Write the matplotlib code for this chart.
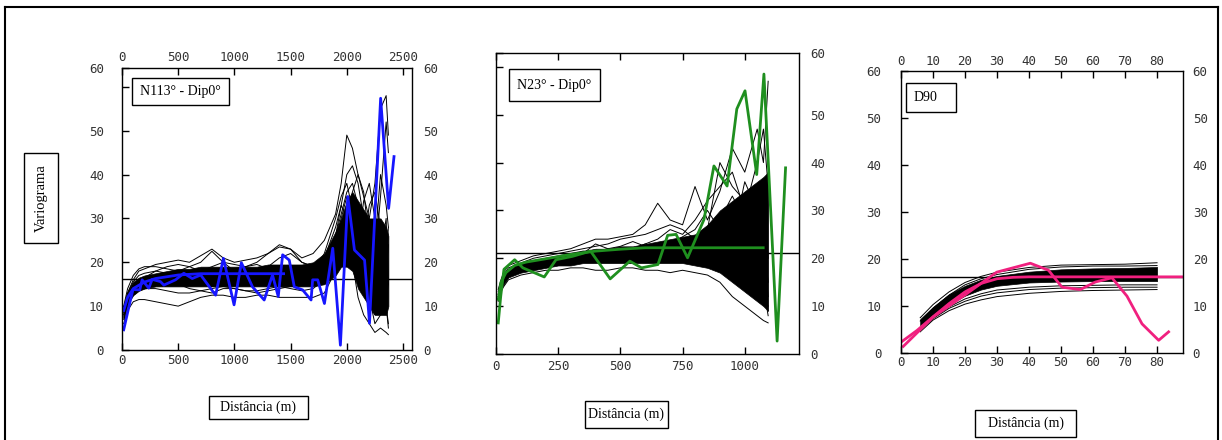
import matplotlib.pyplot as plt
from matplotlib.patches import Rectangle
from matplotlib.lines import Line2D

W, H = 1222, 440

# ---------------- panel 1: N113 - Dip0 ----------------
x1_exp = [15, 68, 98, 158, 179, 238, 268, 342, 372, 476, 550, 625, 700, 833, 902, 997, 1062,
          1161, 1265, 1339, 1390, 1429, 1488, 1533, 1607, 1682, 1696, 1741, 1801, 1875, 1943,
          2009, 2068, 2158, 2202, 2301, 2372, 2420]
y1_exp = [4.6, 10.6, 13.8, 13.7, 16.0, 14.1, 16.1, 15.6, 14.8, 16.0, 17.5, 16.3, 17.1, 12.5, 20.9,
          10.3, 19.9, 14.4, 11.4, 17.1, 12.2, 21.7, 20.5, 14.4, 13.7, 11.4, 16.0, 16.0, 10.6, 23.2,
          1.1, 35.0, 22.8, 20.5, 6.1, 57.4, 32.3, 44.1]
x1_mod = [15, 50, 100, 200, 300, 500, 700, 1438]
y1_mod = [9, 12, 14, 15.5, 16.3, 17.1, 17.4, 17.4]
sill1 = 16.2

x1_sim = [15, 50, 100, 150, 200, 300, 400, 500, 600, 700, 800, 900, 1000, 1100, 1200, 1300,
          1400, 1500, 1600, 1700, 1800, 1900, 1950, 2000, 2050, 2100, 2150, 2200, 2250, 2300,
          2350, 2370]
core1_lo = [7, 10.5, 12.5, 13.5, 14, 14.5, 14.5, 14.5, 14.5, 14.5, 14.5, 14.5, 14.5, 14.5, 14.5,
            14.5, 14.5, 14.5, 14.5, 14.5, 15, 17, 19, 19, 18, 14, 12, 10, 8, 8, 8, 10]
core1_hi = [10, 13, 15.5, 16.5, 17, 17.5, 18, 18.5, 18.5, 19, 19, 19, 19, 19, 19, 19.5, 19.5,
            19.5, 19.5, 20, 22, 27, 30, 34, 36, 34, 32, 30, 30, 30, 28, 26]
sims1 = [
    [9, 13, 16, 18, 18.5, 19.5, 20, 20.5, 20, 21.5, 23, 21, 20, 20.5, 21, 22, 23.5, 23, 21, 22,
     25, 31, 38, 49, 46, 40, 35, 30, 38, 55, 58, 49],
    [6, 9, 11, 11.5, 11.5, 11, 10.5, 10, 11, 12, 12.5, 12.5, 12, 12, 12.5, 12.5, 12, 12, 12, 12,
     13, 18, 22, 25, 20, 12, 8, 6, 4, 5, 4, 3.5],
    [8, 12, 14.5, 15.5, 16, 17, 17, 18, 19, 20, 22.5, 20, 18, 17, 18, 19, 21, 22, 20, 19, 21,
     28, 33, 40, 42, 38, 30, 22, 15, 12, 20, 28],
    [7.5, 11, 13, 14, 14.5, 15, 15.5, 15, 14, 13.5, 13, 14, 14, 13.5, 13, 13.5, 14, 14.5, 15, 16,
     18, 24, 28, 32, 36, 40, 36, 25, 20, 35, 52, 45],
    [10, 14, 17, 18.5, 19, 19, 18.5, 18, 17.5, 18, 19, 20, 19.5, 19, 20, 22, 24, 23, 20, 19, 20,
     25, 30, 35, 30, 22, 15, 10, 8, 15, 10, 5],
    [8.5, 12, 14, 15, 15.5, 16, 16.5, 17, 16.5, 16, 16, 16.5, 17, 16.5, 16, 16, 16.5, 17, 17, 18,
     21, 26, 31, 36, 38, 33, 27, 18, 14, 22, 30, 15],
    [9, 12.5, 15, 16, 16.5, 18, 19, 19.5, 19, 18, 17.5, 18, 18.5, 19, 19.5, 18.5, 17, 16, 17, 18,
     22, 30, 35, 38, 32, 26, 20, 14, 24, 40, 33, 28],
    [7, 10.5, 12.5, 13.5, 14, 14, 13.5, 13, 13, 13.5, 14, 14.5, 14, 13.5, 13.5, 14, 14.5, 14, 13.5,
     14, 16, 20, 24, 28, 26, 22, 17, 12, 6, 8, 12, 15],
    [8, 11.5, 13.5, 14.5, 15, 15.5, 16, 16.5, 17, 16.5, 15.5, 15, 15.5, 16, 17.5, 18, 17.5, 16.5,
     16, 17, 19, 23, 27, 30, 28, 24, 34, 38, 30, 18, 10, 6],
    [9.5, 13, 15.5, 17, 17.5, 18, 17.5, 17, 16, 15, 14.5, 15, 16, 17, 16.5, 15.5, 15, 15.5, 16.5,
     17.5, 20, 26, 33, 30, 24, 18, 24, 33, 36, 28, 18, 24],
]

# ---------------- panel 2: N23 - Dip0 ----------------
x2_exp = [9, 19, 32, 75, 108, 194, 241, 307, 380, 459, 538, 585, 651, 690, 724, 770, 836, 876,
          929, 968, 1001, 1048, 1077, 1130, 1164]
y2_exp = [6.5, 12.1, 17.7, 19.7, 18.0, 16.1, 19.7, 20.4, 21.5, 15.7, 19.4, 18.0, 18.7, 24.8,
          25.0, 20.1, 28.1, 39.3, 35.1, 51.2, 55.0, 37.5, 58.5, 2.7, 38.9]
x2_mod = [9, 20, 40, 75, 120, 200, 300, 400, 500, 600, 1074]
y2_mod = [11.4, 15, 17, 18.5, 19.2, 19.9, 20.8, 21.5, 21.9, 22.2, 22.2]
sill2 = 21.1

x2_sim = [9, 20, 30, 50, 75, 100, 150, 200, 250, 300, 350, 400, 450, 500, 550, 600, 650, 700,
          750, 800, 850, 900, 950, 1000, 1050, 1075, 1094]
core2_lo = [11.5, 13.5, 14.5, 16, 16.5, 17, 17.5, 18, 18.5, 18.5, 19, 19, 19, 19, 19, 19, 19, 19,
            19, 18.5, 18, 17, 15, 13, 11, 10, 9]
core2_hi = [13, 15, 16.5, 17.5, 18.5, 19, 19.5, 20, 20.5, 21, 21.5, 22, 22, 22.5, 22.5, 23, 23.5,
            24, 24.5, 25, 27, 30, 32, 34, 36, 37, 38]
sims2 = [
    [13.5, 15.5, 17, 18.5, 19, 19.5, 20.5, 21, 21.5, 22, 23, 24, 24, 24.5, 25, 27, 31.5, 28, 27,
     35, 28, 34, 43, 38, 47, 40, 57],
    [11, 13, 14, 15.5, 16, 16.5, 17, 17.5, 17.5, 18, 18, 17.5, 17.5, 18, 18, 17.5, 17.5, 17, 17.5,
     17, 16.5, 15, 12, 10, 8, 7, 6.5],
    [12, 14, 15.5, 17, 17.5, 18, 19, 19.5, 20, 20.5, 21, 23, 22, 21.5, 22, 23, 24, 26, 25, 28, 32,
     35, 38, 30, 40, 47, 35],
    [12.5, 14.5, 16, 17.5, 18, 18.5, 19, 19.5, 20, 20, 20.5, 21, 21.5, 22, 21, 20, 21, 22, 23, 22,
     20, 18, 20, 25, 15, 12, 10],
    [11.5, 13.5, 15, 16.5, 17, 17.5, 18.5, 19, 19.5, 19.5, 20, 20, 20.5, 21, 22, 23, 22, 21, 20,
     21, 24, 28, 33, 28, 20, 30, 38],
    [13, 15, 16.5, 18, 18.5, 19, 20, 20.5, 21, 21.5, 22, 22.5, 23, 24, 24.5, 25, 26, 27, 26, 24,
     26, 40, 35, 32, 28, 25, 15],
    [12, 14, 15.5, 17, 17.5, 18, 18.5, 19, 19.5, 20, 20, 20.5, 21, 21, 20.5, 20, 20.5, 21, 22, 23,
     22, 25, 28, 22, 18, 14, 8],
    [12.5, 14.5, 16, 17, 18, 18.5, 19.5, 20, 20.5, 21, 21.5, 21.5, 22, 22.5, 23.5, 22.5, 22, 23,
     24.5, 26, 30, 26, 24, 36, 30, 22, 12],
    [11.5, 13.5, 15, 16.5, 17.5, 18, 18.5, 19, 19.5, 20, 20.5, 21, 21.5, 21, 20.5, 21.5, 22.5,
     21.5, 20.5, 19.5, 21, 24, 18, 15, 24, 33, 20],
]

# ---------------- panel 3: D90 ----------------
x3_exp = [0.7, 10.1, 20.5, 29.9, 40.4, 46.1, 50.3, 56.0, 60.7, 65.9, 70.6, 75.3, 80.5, 83.6]
y3_exp = [1.4, 7.7, 12.6, 17.2, 19.1, 17.6, 14.0, 13.5, 15.1, 16.0, 12.1, 6.2, 2.7, 4.5]
x3_mod = [0, 5, 10, 15, 20, 25, 30, 35, 40, 88.1]
y3_mod = [2.3, 4.8, 7.7, 10.5, 13.0, 14.8, 15.8, 16.1, 16.2, 16.2]
sill3 = 16.2

x3_sim = [6, 10, 15, 20, 25, 30, 40, 50, 60, 70, 80]
core3_lo = [5, 7.8, 10.3, 12.2, 13.5, 14.3, 15, 15.2, 15.3, 15.3, 15.3]
core3_hi = [7.2, 9.8, 12.5, 14.3, 15.6, 16.4, 17.3, 17.8, 18, 18.1, 18.3]
sims3 = [
    [7.5, 10.3, 13, 15, 16.3, 17.2, 18.2, 18.7, 18.8, 18.9, 19.2],
    [4.5, 7, 9, 10.4, 11.3, 12, 12.7, 13.1, 13.3, 13.4, 13.5],
    [5, 7.5, 9.8, 11.5, 12.6, 13.4, 14, 14.3, 14.4, 14.5, 14.5],
    [4.8, 7.3, 9.5, 11, 12.1, 12.8, 13.5, 13.8, 13.9, 14, 14],
    [6.8, 9.5, 12.3, 14.5, 15.8, 16.7, 17.8, 18.3, 18.5, 18.5, 18.6],
]

TICK_FONT = 'DejaVu Sans Mono'
BOX_FONT = 'Liberation Serif'
TICK_COLOR = '#333333'
TICK_SIZE = 9


def px_axes(fig, l, t, r, b):
    return fig.add_axes([l / W, 1 - b / H, (r - l) / W, (b - t) / H])


def px_box(fig, l, t, r, b, text, rot=0, tx=None, size=10):
    fig.add_artist(Rectangle((l / W, 1 - b / H), (r - l) / W, (b - t) / H,
                             transform=fig.transFigure, fc='white', ec='black', lw=1, zorder=5))
    if tx is None:
        fig.text((l + r) / 2 / W, 1 - (t + b) / 2 / H, text, rotation=rot, ha='center',
                 va='center', family=BOX_FONT, fontsize=size, zorder=6)
    else:
        fig.text(tx / W, 1 - (t + b) / 2 / H, text, ha='left', va='center',
                 family=BOX_FONT, fontsize=size, zorder=6)


def draw_panel(ax, xs, lo, hi, sims, sill, xm, ym, xe, ye, color, xmax, ymax):
    ax.fill_between(xs, lo, hi, color='black', lw=0.5)
    for s in sims:
        ax.plot(xs, s, color='black', lw=0.7)
    ax.axhline(sill, color='black', lw=1)
    ax.plot(xm, ym, color=color, lw=2)
    ax.plot(xe, ye, color=color, lw=2)
    ax.set_xlim(0, xmax)
    ax.set_ylim(0, ymax)
    for sp in ax.spines.values():
        sp.set_linewidth(1)
    ax.tick_params(which='both', direction='in', length=5, width=1, top=True, right=True,
                   labelsize=TICK_SIZE, labelcolor=TICK_COLOR)


def set_x(ax, ticks, top, pad):
    ax.set_xticks(ticks)
    ax.set_xticklabels([str(t) for t in ticks], family=TICK_FONT)
    ax.tick_params(axis='x', labeltop=top, labelbottom=True, pad=pad)


def set_y(ax, ymax, left, left_pad, right_pad):
    if ymax > 60:
        # the "60" label sits at the top corner, the mark itself stays at 60
        ticks = [0, 10, 20, 30, 40, 50, ymax]
        ax.set_yticks([60], minor=True)
    else:
        ticks = [0, 10, 20, 30, 40, 50, 60]
    labels = ['0', '10', '20', '30', '40', '50', '60']
    ax.set_yticks(ticks)
    ax.set_yticklabels(labels, family=TICK_FONT)
    ax.tick_params(axis='y', labelleft=left, labelright=False, pad=left_pad)
    tw = ax.twinx()
    tw.set_ylim(0, ymax)
    tw.set_yticks(ticks)
    tw.set_yticklabels(labels, family=TICK_FONT)
    tw.tick_params(axis='y', length=0, labelsize=TICK_SIZE, labelcolor=TICK_COLOR, pad=right_pad)
    for sp in tw.spines.values():
        sp.set_visible(False)


fig = plt.figure(figsize=(W / 100, H / 100), dpi=100)

# panel 1
ax1 = px_axes(fig, 122, 68, 412, 350)
draw_panel(ax1, x1_sim, core1_lo, core1_hi, sims1, sill1, x1_mod, y1_mod, x1_exp, y1_exp,
           '#1616ff', 2580, 64.3)
set_x(ax1, [0, 500, 1000, 1500, 2000, 2500], True, 3)
set_y(ax1, 64.3, True, 13, 8)

# panel 2
ax2 = px_axes(fig, 496, 53, 799, 354)
draw_panel(ax2, x2_sim, core2_lo, core2_hi, sims2, sill2, x2_mod, y2_mod, x2_exp, y2_exp,
           '#1f8f1f', 1218, 62.9)
set_x(ax2, [0, 250, 500, 750, 1000], False, 4)
set_y(ax2, 62.9, False, 8, 8)

# panel 3
ax3 = px_axes(fig, 901, 71, 1183, 353)
draw_panel(ax3, x3_sim, core3_lo, core3_hi, sims3, sill3, x3_mod, y3_mod, x3_exp, y3_exp,
           '#f0207f', 88.1, 60)
set_x(ax3, list(range(0, 90, 10)), True, 2)
set_y(ax3, 60, True, 14, 7)

# outer frame
for xs, ys in (([5, 5], [7, 440]), ([5, 1218], [7, 7]), ([1218, 1218], [7, 440])):
    fig.add_artist(Line2D([x / W for x in xs], [1 - y / H for y in ys], color='black', lw=1.5,
                          transform=fig.transFigure))

# boxed labels
px_box(fig, 24, 153, 58, 243, 'Variograma', rot=90, size=10.5)
px_box(fig, 132, 78, 229, 105, 'N113° - Dip0°')
px_box(fig, 509, 69, 600, 101, 'N23° - Dip0°')
px_box(fig, 906, 83, 956, 112, 'D90', tx=914)
px_box(fig, 209, 396, 308, 419, 'Distância (m)')
px_box(fig, 585, 401, 668, 428, 'Distância (m)')
px_box(fig, 975, 410, 1076, 437, 'Distância (m)')

fig.savefig('out.png', dpi=100)
